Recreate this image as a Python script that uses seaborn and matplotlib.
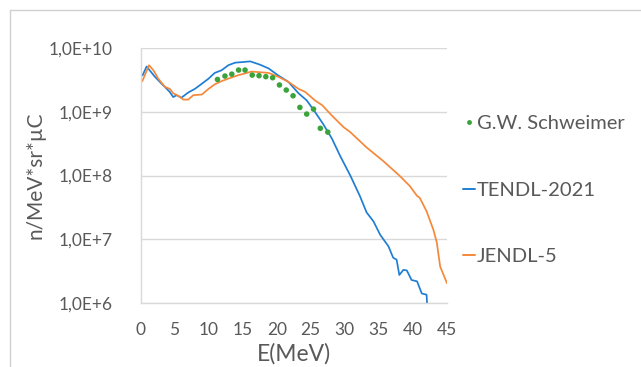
import matplotlib
matplotlib.use("Agg")
import matplotlib.pyplot as plt
import matplotlib.ticker as mticker
from matplotlib.lines import Line2D
import seaborn as sns
import pandas as pd

# ---- data ----
tendl_E = [0.3, 0.9, 2.1, 3.1, 3.85, 4.3, 4.8, 5.3, 6.0, 7.0, 8.0, 9.0, 10.0, 10.9,
           11.9, 12.9, 13.9, 15.1, 16.1, 17.5, 18.8, 20.2, 21.7, 23.2, 24.4, 25.6,
           26.8, 28.1, 29.3, 30.8, 32.2, 33.2, 34.2, 35.2, 36.4, 37.1, 37.6, 38.0,
           38.6, 39.1, 39.8, 40.6, 41.3, 42.0, 42.1]
tendl_v = [3.72e9, 5.13e9, 3.55e9, 2.75e9, 2.29e9, 2.04e9, 1.70e9, 1.82e9, 1.66e9,
           2.0e9, 2.29e9, 2.75e9, 3.31e9, 4.07e9, 4.47e9, 5.37e9, 5.89e9, 6.03e9,
           6.17e9, 5.5e9, 4.79e9, 3.72e9, 2.95e9, 1.95e9, 1.51e9, 1.0e9, 6.46e8,
           3.8e8, 2.04e8, 1.0e8, 4.79e7, 2.63e7, 1.91e7, 1.17e7, 7.76e6, 5.13e6,
           4.79e6, 2.75e6, 3.31e6, 3.24e6, 2.29e6, 2.19e6, 1.41e6, 1.35e6, 8.9e5]

jendl_E = [0.27, 1.25, 1.9, 2.6, 3.6, 4.3, 4.8, 5.55, 6.3, 7.0, 7.75, 9.0, 10.0, 10.9,
           11.9, 12.9, 14.4, 15.3, 16.3, 18.8, 20.2, 21.7, 23.2, 24.2, 25.6, 26.7,
           28.1, 29.8, 30.8, 33.2, 35.6, 38.0, 39.5, 40.6, 41.0, 42.0, 43.0, 43.5,
           44.0, 45.0]
jendl_v = [3.02e9, 5.37e9, 4.47e9, 3.31e9, 2.45e9, 2.29e9, 1.95e9, 1.78e9, 1.55e9,
           1.55e9, 1.82e9, 1.86e9, 2.29e9, 2.69e9, 3.02e9, 3.31e9, 3.76e9, 3.98e9,
           4.27e9, 4.07e9, 3.55e9, 2.95e9, 2.29e9, 2.04e9, 1.51e9, 1.26e9, 8.7e8,
           5.75e8, 4.79e8, 2.75e8, 1.70e8, 1.0e8, 6.92e7, 4.79e7, 4.47e7, 2.75e7,
           1.41e7, 8.9e6, 3.72e6, 2.04e6]

gws_E = [11.3, 12.4, 13.4, 14.4, 15.35, 16.4, 17.4, 18.4, 19.4, 20.4, 21.4, 22.4,
         23.4, 24.4, 25.4, 26.4, 27.5]
gws_v = [3.21e9, 3.63e9, 3.89e9, 4.51e9, 4.51e9, 3.76e9, 3.68e9, 3.55e9, 3.42e9,
         2.63e9, 2.19e9, 1.78e9, 1.17e9, 9.2e8, 1.10e9, 5.5e8, 4.79e8]

series_names = ["G.W. Schweimer", "TENDL-2021", "JENDL-5"]
xticks = [0, 5, 10, 15, 20, 25, 30, 35, 40, 45]
yticks = [1e6, 1e7, 1e8, 1e9, 1e10]
ytick_labels = ["1,0E+6", "1,0E+7", "1,0E+8", "1,0E+9", "1,0E+10"]

# ---- style ----
sns.set_style("white")
plt.rcParams['font.family'] = ['Lato', 'DejaVu Sans']
txt = '#595959'
c_green = '#3aa33a'
c_blue = '#1f7ed3'
c_orange = '#f5883a'

W, H = 641, 367
fig = plt.figure(figsize=(W / 100, H / 100), dpi=100)
ax = fig.add_axes([140.5 / W, (H - 303) / H, (447 - 140.5) / W, (303 - 48) / H])

df_t = pd.DataFrame({"E": tendl_E, "v": tendl_v})
df_j = pd.DataFrame({"E": jendl_E, "v": jendl_v})
df_g = pd.DataFrame({"E": gws_E, "v": gws_v})

sns.lineplot(data=df_t, x="E", y="v", ax=ax, color=c_blue, lw=1.25, sort=False)
sns.lineplot(data=df_j, x="E", y="v", ax=ax, color=c_orange, lw=1.25, sort=False)
sns.scatterplot(data=df_g, x="E", y="v", ax=ax, color=c_green, s=16,
                edgecolor='none', zorder=5)

ax.set_yscale('log')
ax.set_xlim(0, 45)
ax.set_ylim(1e6, 1e10)
ax.yaxis.set_major_locator(mticker.FixedLocator(yticks))
ax.yaxis.set_minor_locator(mticker.NullLocator())
ax.set_yticklabels(ytick_labels)
ax.set_xticks(xticks)
ax.tick_params(axis='both', length=0, labelsize=12.5, colors=txt)
ax.tick_params(axis='y', pad=20)
ax.tick_params(axis='x', pad=14)
ax.grid(axis='y', color='#d9d9d9', lw=1)
ax.set_axisbelow(True)
for s in ['top', 'right']:
    ax.spines[s].set_visible(False)
for s in ['left', 'bottom']:
    ax.spines[s].set_color('#d9d9d9')
    ax.spines[s].set_linewidth(1)

ax.set_xlabel("E(MeV)", fontsize=16.5, color=txt, labelpad=3)
ax.set_ylabel("n/MeV*sr*µC", fontsize=15, color=txt, labelpad=2)

handles = [
    Line2D([], [], ls='none', marker='o', ms=3.5, color=c_green, mec='none'),
    Line2D([], [], color=c_blue, lw=1.4),
    Line2D([], [], color=c_orange, lw=1.4),
]
leg = fig.legend(handles, series_names, loc='upper left',
                 bbox_to_anchor=(453 / W, 1 - 105 / H), frameon=False,
                 fontsize=14.5, labelspacing=2.45, handlelength=0.6,
                 handletextpad=0.1, borderpad=0)
for t in leg.get_texts():
    t.set_color(txt)

# outer frame lines (left and top)
fig.add_artist(Line2D([9.5 / W, 9.5 / W], [0, 1 - 9.5 / H], transform=fig.transFigure,
                      color='#d0d0d0', lw=1))
fig.add_artist(Line2D([9.5 / W, 1], [1 - 9.5 / H, 1 - 9.5 / H], transform=fig.transFigure,
                      color='#d0d0d0', lw=1))

fig.savefig("out.png", dpi=100)
